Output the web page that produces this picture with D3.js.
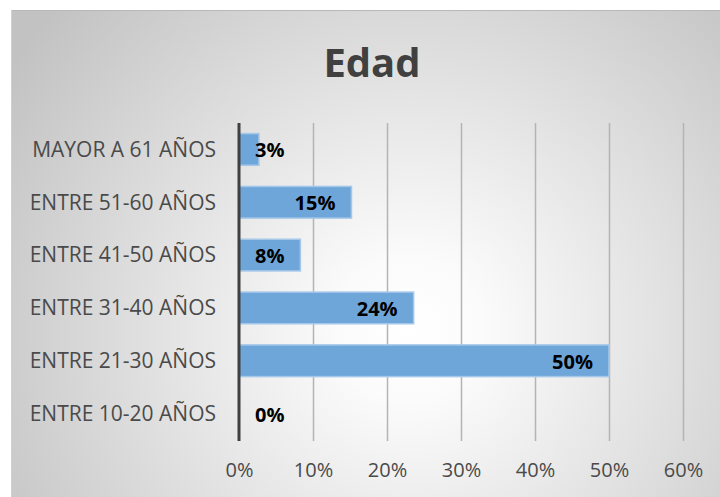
<!DOCTYPE html>
<html><head><meta charset="utf-8">
<script src="https://cdn.jsdelivr.net/npm/d3@7"></script>
<style>html,body{margin:0;padding:0;background:#fff;}svg{display:block;}</style>
</head><body>
<svg id="c" width="720" height="497"></svg>
<script>
const title = "Edad";
const categories = ["MAYOR A 61 AÑOS","ENTRE 51-60 AÑOS","ENTRE 41-50 AÑOS","ENTRE 31-40 AÑOS","ENTRE 21-30 AÑOS","ENTRE 10-20 AÑOS"];
const values = [0.027, 0.152, 0.083, 0.236, 0.500, 0.0];
const tickValues = [0, 0.1, 0.2, 0.3, 0.4, 0.5, 0.6];

const svg = d3.select("#c");
const font = "'Open Sans', sans-serif";
const defs = svg.append("defs");
const rg = defs.append("radialGradient").attr("id","bg")
  .attr("gradientUnits","userSpaceOnUse").attr("cx",410).attr("cy",330).attr("r",480);
rg.append("stop").attr("offset","0%").attr("stop-color","#ffffff");
rg.append("stop").attr("offset","15%").attr("stop-color","#fbfbfb");
rg.append("stop").attr("offset","100%").attr("stop-color","#c2c2c2");

svg.append("rect").attr("x",11).attr("y",10).attr("width",720).attr("height",500)
  .attr("fill","url(#bg)");
svg.append("line").attr("x1",11).attr("x2",720).attr("y1",10.5).attr("y2",10.5).attr("stroke","#b8b8b8");
svg.append("line").attr("x1",11.5).attr("x2",11.5).attr("y1",10).attr("y2",497).attr("stroke","#d0d0d0");

const x = d3.scaleLinear().domain([0,0.6]).range([239,683]);
const y = d3.scaleBand().domain(categories).range([123,440]).paddingInner(0.4).paddingOuter(0.2);

// gridlines
svg.append("g").selectAll("line").data(tickValues.slice(1)).join("line")
  .attr("x1",d=>Math.round(x(d))+0.5).attr("x2",d=>Math.round(x(d))+0.5)
  .attr("y1",123).attr("y2",441).attr("stroke","#b4b4b4").attr("stroke-width",1.5);

// x axis labels
const xAxis = d3.axisBottom(x).tickValues(tickValues).tickFormat(d3.format(".0%")).tickSize(0).tickPadding(0);
const gx = svg.append("g").attr("transform","translate(0,463)").call(xAxis);
gx.select(".domain").remove();
gx.selectAll("text").attr("font-family",font).attr("font-size",20).attr("fill","#4a4a4a").attr("dy","0.72em");

// y axis labels
const yAxis = d3.axisLeft(y).tickSize(0).tickPadding(0);
const gy = svg.append("g").attr("transform","translate(216,0)").call(yAxis);
gy.select(".domain").remove();
gy.selectAll("text").attr("font-family",font).attr("font-size",21).attr("fill","#4a4a4a").attr("dy","0.35em");

// bars
svg.append("g").selectAll("rect").data(values).join("rect")
  .attr("x",x(0)).attr("y",(d,i)=>y(categories[i]))
  .attr("width",d=>Math.max(0,x(d)-x(0))).attr("height",y.bandwidth())
  .attr("fill","#6fa6da").attr("stroke","#a6c8e8").attr("stroke-width",1.5)
  .attr("opacity",d=>d>0?1:0);

// axis line
svg.append("line").attr("x1",x(0)).attr("x2",x(0)).attr("y1",123).attr("y2",441)
  .attr("stroke","#404040").attr("stroke-width",3);

// data labels
const fmt = d3.format(".0%");
const lbl = svg.append("g").selectAll("text").data(values).join("text")
  .attr("font-family",font).attr("font-weight","bold").attr("font-size",20).attr("fill","#000")
  .attr("text-anchor","end").attr("dy","0.35em")
  .attr("y",(d,i)=>y(categories[i])+y.bandwidth()/2+1)
  .text(d=>fmt(d));
lbl.each(function(d){
  const w = this.getComputedTextLength();
  const xe = Math.max(x(d)-16, x(0)+16+w);
  d3.select(this).attr("x",xe);
});

// title
svg.append("text").attr("x",372).attr("y",63).attr("text-anchor","middle").attr("dy","0.35em")
  .attr("font-family",font).attr("font-weight","bold").attr("font-size",40).attr("fill","#404040")
  .text(title);
</script>
</body></html>
